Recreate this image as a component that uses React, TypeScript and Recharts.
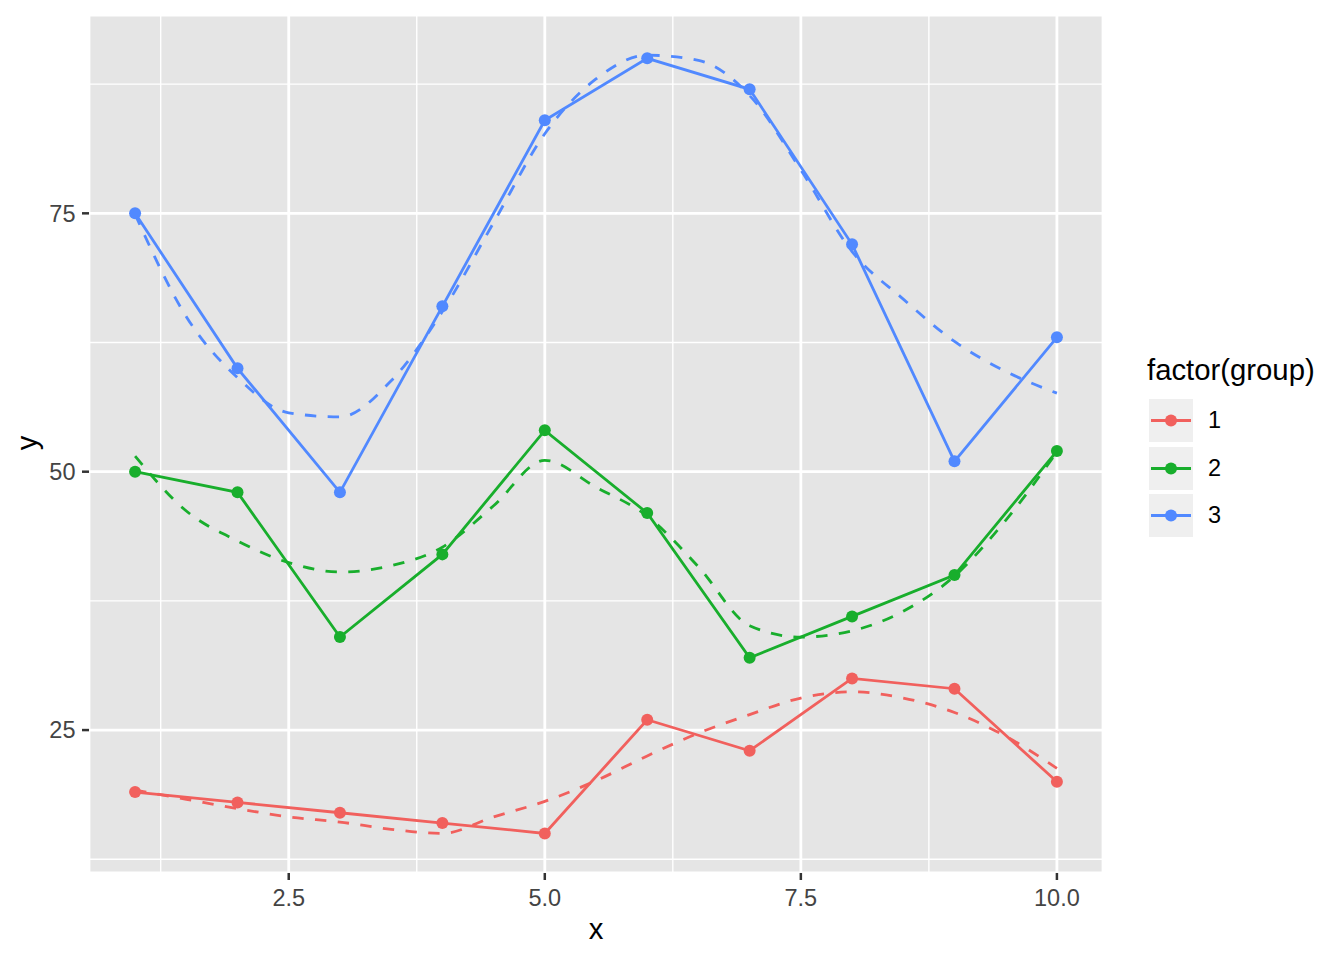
import React from 'react';
import { ComposedChart, Line, XAxis, YAxis, CartesianGrid, ReferenceLine } from 'recharts';

const xValues = [1, 2, 3, 4, 5, 6, 7, 8, 9, 10];
const group1 = [19, 18, 17, 16, 15, 26, 23, 30, 29, 20];
const group2 = [50, 48, 34, 42, 54, 46, 32, 36, 40, 52];
const group3 = [75, 60, 48, 66, 84, 90, 87, 72, 51, 63];

const smoothX = [1, 1.5, 2, 2.5, 3, 3.5, 4, 4.5, 5, 5.5, 6, 6.5, 7, 7.5, 8, 8.5, 9, 9.5, 10];
const smooth1 = [19.2, 18.3, 17.4, 16.6, 16.1, 15.4, 15.0, 16.6, 18.1, 20.1, 22.5, 24.7, 26.5, 28.1, 28.7, 28.1, 26.7, 24.4, 21.3];
const smooth2 = [51.5, 46.2, 43.3, 41.2, 40.3, 40.9, 42.7, 46.7, 51.1, 48.5, 45.7, 40.8, 35.1, 34.0, 34.6, 36.5, 39.9, 45.3, 51.9];
const smooth3 = [74.9, 65.0, 59.1, 55.7, 55.3, 58.8, 65.5, 74.1, 82.7, 88.0, 90.3, 89.8, 86.4, 79.2, 71.3, 66.7, 62.6, 59.7, 57.6];

const groupNames = ['1', '2', '3'];
const groupColors = ['#F1605D', '#18AE2C', '#5189FF'];

const xTicks = [2.5, 5, 7.5, 10];
const yTicks = [25, 50, 75];
const xMinor = [1.25, 3.75, 6.25, 8.75];
const yMinor = [12.5, 37.5, 62.5, 87.5];

const toPoints = (xs: number[], ys: number[]) => xs.map((x, i) => ({ x, y: ys[i] }));

const raw = [group1, group2, group3].map((g) => toPoints(xValues, g));
const smooth = [smooth1, smooth2, smooth3].map((g) => toPoints(smoothX, g));

const FONT = '"Liberation Sans", Arial, Helvetica, sans-serif';

export default function App() {
  return (
    <div style={{ position: 'absolute', left: 0, top: 0, width: 1344, height: 960, background: '#fff', fontFamily: FONT }}>
      <ComposedChart width={1344} height={960} margin={{ top: 15, right: 241, bottom: 0, left: 0 }}>
        <CartesianGrid fill="#E5E5E5" stroke="#FFFFFF" strokeWidth={2.8} />
        {yMinor.map((v) => (
          <ReferenceLine key={'ym' + v} y={v} stroke="#FFFFFF" strokeWidth={1.4} />
        ))}
        {xMinor.map((v) => (
          <ReferenceLine key={'xm' + v} x={v} stroke="#FFFFFF" strokeWidth={1.4} />
        ))}
        <XAxis
          type="number"
          dataKey="x"
          domain={[0.55, 10.45]}
          allowDataOverflow
          ticks={xTicks}
          tickFormatter={(v: number) => v.toFixed(1)}
          axisLine={false}
          tickLine={{ stroke: '#333333', strokeWidth: 2.5 }}
          tickSize={7}
          tickMargin={9}
          height={87}
          tick={{ fill: '#444444', fontSize: 23.5, fontFamily: FONT }}
        />
        <YAxis
          type="number"
          domain={[11.17, 94.19]}
          allowDataOverflow
          ticks={yTicks}
          axisLine={false}
          tickLine={{ stroke: '#333333', strokeWidth: 2.5 }}
          tickSize={7}
          tickMargin={6.5}
          width={89}
          tick={{ fill: '#444444', fontSize: 23.5, fontFamily: FONT }}
        />
        {raw.map((d, i) => (
          <Line
            key={'raw' + i}
            data={d}
            dataKey="y"
            type="linear"
            stroke={groupColors[i]}
            strokeWidth={2.8}
            dot={{ r: 6, fill: groupColors[i], stroke: groupColors[i], strokeWidth: 0 }}
            activeDot={false}
            isAnimationActive={false}
          />
        ))}
        {smooth.map((d, i) => (
          <Line
            key={'sm' + i}
            data={d}
            dataKey="y"
            type="monotone"
            stroke={groupColors[i]}
            strokeWidth={2.8}
            strokeDasharray="11.4 11.4"
            dot={false}
            activeDot={false}
            isAnimationActive={false}
          />
        ))}
      </ComposedChart>

      <div style={{ position: 'absolute', left: 546, width: 100, top: 914, fontSize: 29.3, lineHeight: 1, textAlign: 'center', color: '#000' }}>x</div>
      <div
        style={{
          position: 'absolute',
          left: 26.85,
          top: 443,
          fontSize: 29.3,
          lineHeight: 1,
          color: '#000',
          transform: 'translate(-50%, -50%) rotate(-90deg)',
          whiteSpace: 'nowrap',
        }}
      >
        y
      </div>

      <div style={{ position: 'absolute', left: 1147, top: 355, fontSize: 29.3, lineHeight: 1, color: '#000', whiteSpace: 'nowrap' }}>
        factor(group)
      </div>
      {groupNames.map((name, i) => {
        const top = 399 + i * 47.5;
        return (
          <React.Fragment key={'leg' + i}>
            <svg style={{ position: 'absolute', left: 1149, top }} width={44} height={43}>
              <rect x={0} y={0} width={44} height={43} fill="#EFEFEF" />
              <line x1={2} x2={42} y1={21.5} y2={21.5} stroke={groupColors[i]} strokeWidth={2.8} />
              <circle cx={22} cy={21.5} r={6} fill={groupColors[i]} />
            </svg>
            <div style={{ position: 'absolute', left: 1208, top, height: 43, lineHeight: '43px', fontSize: 23.5, color: '#000' }}>
              {name}
            </div>
          </React.Fragment>
        );
      })}
    </div>
  );
}
